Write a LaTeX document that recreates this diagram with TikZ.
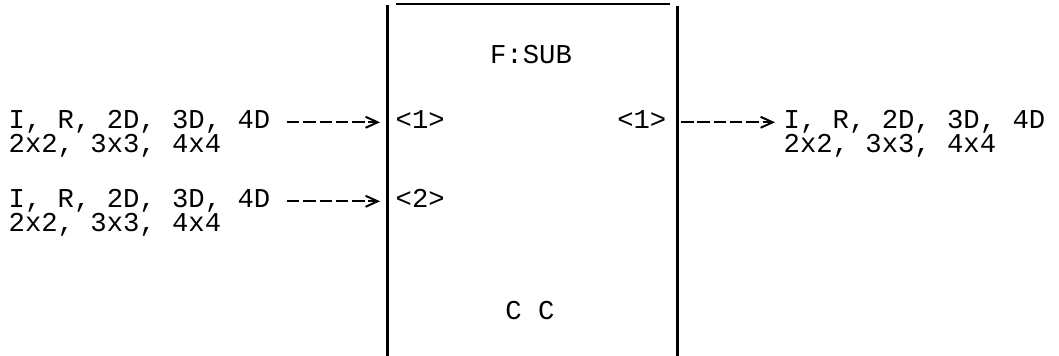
\documentclass[tikz,border=0pt]{standalone}
\usepackage{fontspec}
\setmonofont{Liberation Mono}
\usetikzlibrary{arrows.meta,calc}
\begin{document}
\begin{tikzpicture}[x=0.1mm,y=-0.1mm,
  lbl/.style={inner sep=0pt,anchor=base west,font=\ttfamily\fontsize{7.75pt}{9pt}\selectfont},
  lblr/.style={lbl,anchor=base east},
  lblc/.style={lbl,anchor=base},
  boxline/.style={line width=0.3mm},
  topline/.style={line width=0.2mm},
  flow/.style={line width=0.2mm,dash pattern=on 1.25mm off 0.38mm,
    -{Straight Barb[length=1.2mm,width=1.1mm,line width=0.2mm]}}]
\useasboundingbox (0,0) rectangle (1059,356);
% box
\coordinate (boxLT) at (387,5);
\coordinate (boxLB) at (387,356);
\coordinate (boxRT) at (677,6);
\coordinate (boxRB) at (677,356);
\coordinate (topL) at (396,4);
\coordinate (topR) at (670,4);
\draw[boxline] (boxLT) -- (boxLB);
\draw[boxline] (boxRT) -- (boxRB);
\draw[topline] (topL) -- (topR);
% inner labels
\node[lblc] (title) at (531,64) {F:SUB};
\node[lblc] (cc) at (530,320) {C C};
\node[lbl] (p1) at (395,129) {<1>};
\node[lbl] (p2) at (395,208) {<2>};
\node[lblr] (q1) at (667,129) {<1>};
% left texts
\node[lbl] (in1a) at (8,129) {I, R, 2D, 3D, 4D};
\node[lbl] (in1b) at (8,153) {2x2, 3x3, 4x4};
\node[lbl] (in2a) at (8,208) {I, R, 2D, 3D, 4D};
\node[lbl] (in2b) at (8,232) {2x2, 3x3, 4x4};
% right texts
\node[lbl] (out1a) at (783,129) {I, R, 2D, 3D, 4D};
\node[lbl] (out1b) at (783,153) {2x2, 3x3, 4x4};
% connectors
\coordinate (a1s) at ([xshift=1.6mm]in1a.east);
\coordinate (a2s) at ([xshift=1.6mm]in2a.east);
\draw[flow,shorten >=0.7mm] (a1s) -- (a1s -| boxLT);
\draw[flow,shorten >=0.7mm] (a2s) -- (a2s -| boxLT);
\draw[flow,shorten <=0.4mm,shorten >=0.8mm] (out1a.west -| boxRT) -- (out1a.west);
\end{tikzpicture}
\end{document}
